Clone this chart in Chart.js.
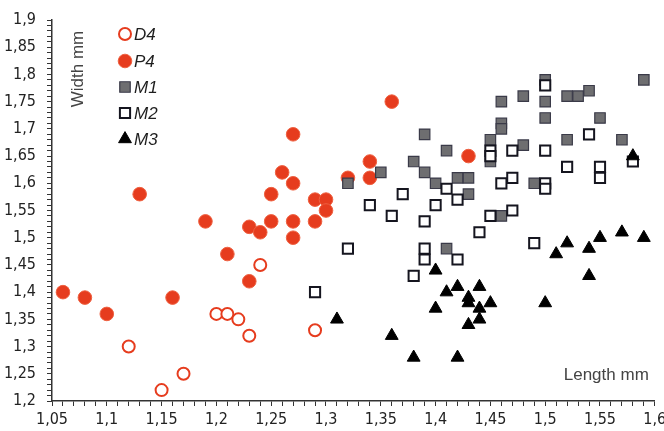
<!DOCTYPE html>
<html>
<head>
<meta charset="utf-8">
<script src="https://cdn.jsdelivr.net/npm/chart.js@4/dist/chart.umd.min.js"></script>
<style>
html,body{margin:0;padding:0;background:#fff}
#wrap{width:664px;height:431px;position:relative}
</style>
</head>
<body>
<div id="wrap"><canvas id="c" width="664" height="431"></canvas></div>
<script>
// ---- data (length mm / width mm) ----
const d4X=[1.12,1.15,1.17,1.20,1.21,1.22,1.23,1.24,1.29];
const d4Y=[1.30,1.22,1.25,1.36,1.36,1.35,1.32,1.45,1.33];
const p4X=[1.06,1.08,1.10,1.13,1.16,1.19,1.21,1.23,1.23,1.24,1.25,1.25,1.26,1.27,1.27,1.27,1.27,1.29,1.29,1.30,1.30,1.32,1.34,1.34,1.36,1.43];
const p4Y=[1.40,1.39,1.36,1.58,1.39,1.53,1.47,1.52,1.42,1.51,1.53,1.58,1.62,1.69,1.60,1.53,1.50,1.57,1.53,1.57,1.55,1.61,1.64,1.61,1.75,1.65];
const m1X=[1.32,1.35,1.38,1.39,1.40,1.39,1.41,1.42,1.43,1.43,1.41,1.45,1.45,1.46,1.46,1.46,1.46,1.48,1.48,1.49,1.50,1.50,1.50,1.52,1.53,1.54,1.52,1.55,1.57,1.59];
const m1Y=[1.60,1.62,1.64,1.62,1.60,1.69,1.66,1.61,1.61,1.58,1.48,1.68,1.64,1.75,1.71,1.70,1.54,1.76,1.67,1.60,1.79,1.75,1.72,1.76,1.76,1.77,1.68,1.72,1.68,1.79];
const m2X=[1.29,1.32,1.34,1.36,1.37,1.38,1.39,1.39,1.39,1.40,1.41,1.42,1.42,1.44,1.45,1.45,1.45,1.46,1.47,1.47,1.47,1.49,1.50,1.50,1.50,1.50,1.52,1.54,1.55,1.55,1.58];
const m2Y=[1.40,1.48,1.56,1.54,1.58,1.43,1.53,1.48,1.46,1.56,1.59,1.57,1.46,1.51,1.54,1.66,1.65,1.60,1.61,1.55,1.66,1.49,1.78,1.66,1.60,1.59,1.63,1.69,1.63,1.61,1.64];
const m3X=[1.31,1.36,1.38,1.40,1.40,1.41,1.42,1.42,1.43,1.43,1.43,1.44,1.44,1.44,1.45,1.50,1.51,1.52,1.54,1.54,1.55,1.57,1.59,1.58];
const m3Y=[1.35,1.32,1.28,1.44,1.37,1.40,1.41,1.28,1.39,1.38,1.34,1.41,1.37,1.35,1.38,1.38,1.47,1.49,1.48,1.43,1.50,1.51,1.50,1.65];

const xMin=1.05, xMax=1.6, yMin=1.2, yMax=1.9;

const RED='#e63c1e';
const pts=(xs,ys)=>xs.map((x,i)=>({x:x,y:ys[i]}));
const NARROW='"Liberation Sans Narrow","DejaVu Sans Condensed","Liberation Sans",Arial,sans-serif';

const series=[
  {label:'D4',data:pts(d4X,d4Y),pointStyle:'circle',pointRadius:6,backgroundColor:'#fff',borderColor:RED,borderWidth:2},
  {label:'P4',data:pts(p4X,p4Y),pointStyle:'circle',pointRadius:6.8,backgroundColor:RED,borderColor:'#ee6040',borderWidth:1},
  {label:'M1',data:pts(m1X,m1Y),pointStyle:'rect',pointRadius:7.4,backgroundColor:'#6e6e70',borderColor:'#3a3a48',borderWidth:1.2},
  {label:'M2',data:pts(m2X,m2Y),pointStyle:'rect',pointRadius:7.2,backgroundColor:'#fff',borderColor:'#15151f',borderWidth:2},
  {label:'M3',data:pts(m3X,m3Y),pointStyle:'triangle',pointRadius:7.4,backgroundColor:'#000',borderColor:'#000',borderWidth:1}
];
series.forEach((s,i)=>{s.order=10-i;s.pointHoverRadius=s.pointRadius;});

function fmt(v){
  const n=Math.round(v*100);
  if(n%5!==0)return '';
  return String(n/100).replace('.',',');
}

// titles + legend drawn inside the plot area
const annot={
  id:'annot',
  afterDraw(chart){
    const ctx=chart.ctx, a=chart.chartArea;
    ctx.save();
    ctx.fillStyle='#444';
    ctx.font='17px "Liberation Sans",Arial,sans-serif';
    ctx.textBaseline='middle';
    ctx.textAlign='right';
    ctx.fillText('Length mm',a.right-6,375);
    ctx.translate(78,69);ctx.rotate(-Math.PI/2);
    ctx.textAlign='center';
    ctx.fillText('Width mm',0,0);
    ctx.restore();

    ctx.save();
    const rows=[34,61,87,113,139];
    chart.data.datasets.forEach((ds,i)=>{
      const y=rows[i], x=125;
      ctx.save();
      ctx.fillStyle=ds.backgroundColor;ctx.strokeStyle=ds.borderColor;ctx.lineWidth=ds.borderWidth;
      Chart.helpers.drawPoint(ctx,{pointStyle:ds.pointStyle,radius:ds.pointRadius,rotation:0,borderWidth:ds.borderWidth},x,y);
      ctx.restore();
      ctx.fillStyle='#1e1e1e';
      ctx.font='italic 17px "Liberation Sans",Arial,sans-serif';
      ctx.textAlign='left';ctx.textBaseline='middle';
      ctx.fillText(ds.label,x+9,y+1);
    });
    ctx.restore();
  }
};

new Chart(document.getElementById('c'),{
  type:'scatter',
  data:{datasets:series},
  plugins:[annot],
  options:{
    responsive:false,
    animation:false,
    layout:{padding:{top:20,right:8,left:0,bottom:0}},
    plugins:{legend:{display:false},tooltip:{enabled:false}},
    scales:{
      x:{
        type:'linear',min:xMin,max:xMax,
        afterFit(s){s.height=30;s.paddingLeft=0;s.paddingRight=0;},
        border:{display:true,color:'#333',width:1.5},
        grid:{display:true,drawOnChartArea:false,drawTicks:true,tickLength:5,color:'#333',lineWidth:1},
        ticks:{stepSize:0.01,autoSkip:false,maxTicksLimit:200,maxRotation:0,padding:4,color:'#222',
          font:{family:NARROW,size:16},callback:v=>fmt(v)}
      },
      y:{
        type:'linear',min:yMin,max:yMax,
        afterFit(s){s.width=52;s.paddingTop=0;s.paddingBottom=0;},
        border:{display:true,color:'#333',width:1.5},
        grid:{display:true,drawOnChartArea:false,drawTicks:true,tickLength:5,color:'#333',lineWidth:1},
        ticks:{stepSize:0.01,autoSkip:false,maxTicksLimit:200,padding:11,color:'#222',
          font:{family:NARROW,size:16},callback:v=>fmt(v)}
      }
    }
  }
});
</script>
</body>
</html>
